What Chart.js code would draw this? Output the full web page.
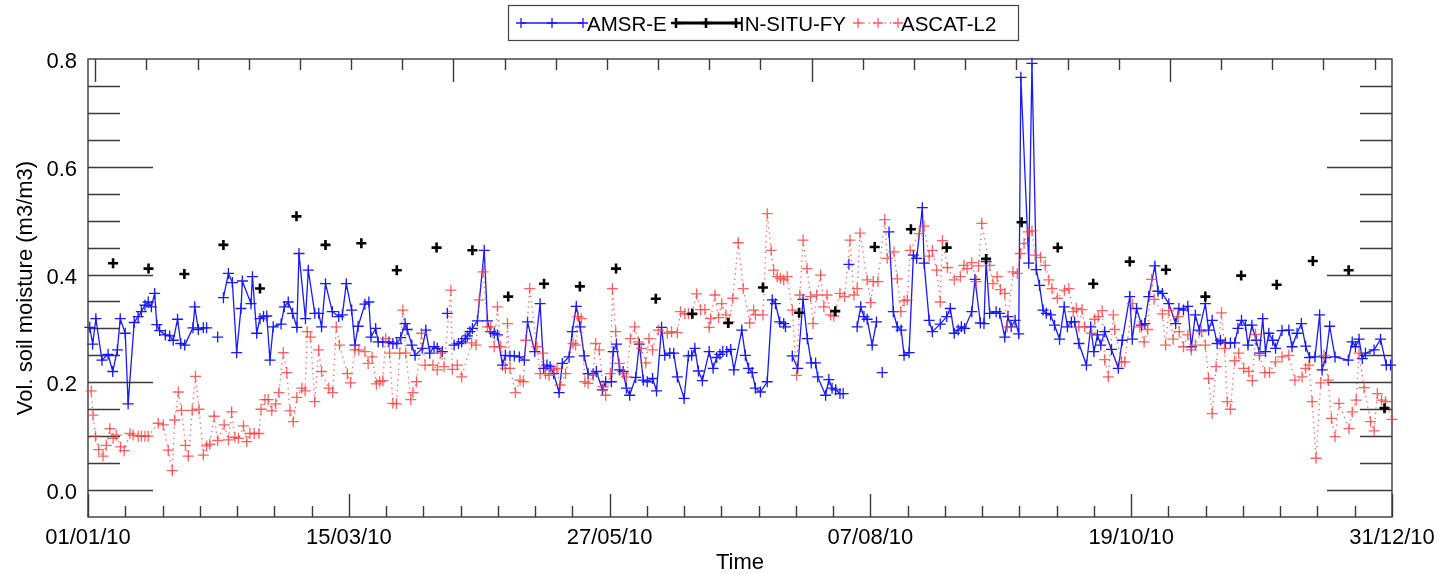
<!DOCTYPE html>
<html>
<head>
<meta charset="utf-8">
<title>Soil moisture 2010</title>
<script src="https://cdn.jsdelivr.net/npm/chart.js@4.4.1/dist/chart.umd.min.js"></script>
<style>
  html, body { margin: 0; padding: 0; background: #fff; }
  #wrap { width: 1439px; height: 574px; position: relative; }
</style>
</head>
<body>
<div id="wrap"><canvas id="soilChart"></canvas></div>
<script>
// x axis: day of 2010 (0 = 01/01/10)
const xTickLabels = ["01/01/10", "15/03/10", "27/05/10", "07/08/10", "19/10/10", "31/12/10"];
const yTickValues = [0.0, 0.2, 0.4, 0.6, 0.8];

// AMSR-E (null = gap in the line)
const amsrDays = [0.5,1.3,2.2,3.9,5.6,6.9,8.2,9.0,10.4,11.2,12.9,14.0,14.9,15.9,16.8,17.7,18.6,19.2,20.0,21.6,22.8,23.8,25.0,25.9,27.0,29.3,29.8,30.8,32.2,33.1,34.5,36.2,37.0,37.8,39.2,40.3,41.5,42.7,43.1,45.5,45.9,47.1,48.0,49.0,49.9,50.8,51.7,53.9,54.8,55.9,57.1,58.3,58.9,60.7,61.5,63.3,64.4,65.2,66.3,68.2,70.0,71.0,72.1,73.6,74.5,75.4,77.3,78.4,79.0,80.3,81.0,82.3,84.0,85.1,86.2,87.3,88.5,89.1,90.4,91.3,93.3,94.3,95.4,96.6,97.5,98.9,99.6,100.3,101.2,102.2,103.4,104.3,105.3,105.9,106.6,107.3,108.7,110.6,111.5,112.4,113.4,114.3,115.7,116.5,117.8,119.0,120.4,121.8,122.7,124.7,126.2,127.2,128.1,129.0,130.0,131.5,132.4,134.3,135.2,136.3,137.4,138.5,139.6,141.0,141.9,143.6,144.5,146.1,146.6,147.5,148.4,149.4,150.3,151.2,152.9,153.9,155.0,156.1,157.6,158.7,160.1,161.0,162.4,163.5,164.5,166.4,167.6,168.5,169.4,170.4,171.5,173.4,174.5,175.5,176.4,177.2,178.3,179.4,180.3,182.5,183.5,184.4,185.4,186.3,187.7,189.6,191.0,191.9,193.1,194.2,194.7,195.6,196.6,198.1,199.6,200.8,201.9,203.1,203.7,205.9,206.8,207.7,208.7,209.9,210.8,211.6,212.4,213.5,214.7,215.7,216.6,217.5,218.9,220.1,220.9,221.7,222.6,223.6,224.8,225.9,227.0,227.8,229.2,230.4,231.3,232.9,233.4,234.8,235.7,237.9,239.7,240.7,241.8,242.9,243.8,244.7,246.7,247.6,249.1,250.1,250.7,251.7,253.5,254.5,255.9,256.8,257.7,258.8,259.8,260.4,262.6,263.5,264.7,265.6,266.6,267.5,268.7,269.8,271.2,272.5,273.4,274.5,275.4,276.6,278.7,279.9,280.8,281.8,282.7,283.8,285.7,287.6,288.7,290.8,291.5,292.7,294.1,295.0,296.1,297.8,298.7,299.9,301.7,303.6,304.5,305.8,307.0,308.0,309.1,310.2,311.9,312.8,313.8,315.2,316.1,317.5,318.9,320.1,321.0,322.0,323.1,323.8,324.9,326.1,327.0,327.9,328.7,329.6,330.7,331.5,333.3,335.2,336.1,337.5,338.7,339.9,341.0,342.5,343.8,344.5,345.5,346.6,348.1,351.8,352.9,353.8,354.8,355.7,356.6,359.0,360.8,362.4,363.6];
const amsrVals = [0.302,0.271,0.318,0.241,0.252,0.220,0.260,0.318,0.291,0.160,0.311,0.322,0.331,0.343,0.349,0.340,0.365,0.307,0.296,0.288,0.286,0.278,0.317,0.272,0.269,0.301,0.340,0.298,0.301,0.301,null,0.284,null,0.357,0.402,0.385,0.255,0.337,0.388,0.346,0.396,0.291,0.318,0.322,0.323,0.241,0.303,0.308,0.340,0.349,0.328,0.302,0.439,0.318,0.408,0.328,0.328,0.303,0.383,0.331,0.322,0.325,0.383,0.334,0.269,0.304,0.345,0.349,0.284,0.300,0.275,0.275,0.275,0.272,0.272,0.283,0.309,0.298,0.269,0.250,0.263,0.297,0.254,0.266,0.263,0.257,null,0.328,null,0.269,0.272,0.275,0.281,0.286,0.294,0.300,0.314,0.445,0.314,0.294,0.291,0.288,0.232,0.250,0.249,0.249,0.247,0.241,0.312,0.257,0.346,0.226,0.232,0.229,0.216,0.181,0.235,0.247,0.294,0.341,0.303,0.249,0.216,0.216,0.220,0.186,0.201,0.201,0.257,0.271,0.223,0.220,0.189,0.176,0.209,0.271,0.204,0.201,0.207,0.184,0.302,0.250,0.254,0.254,0.210,0.170,0.249,0.250,0.263,0.221,0.203,0.257,0.226,0.246,0.252,0.257,0.257,0.261,0.223,0.297,0.250,0.226,0.218,0.189,0.182,0.201,0.353,0.346,0.312,0.309,0.303,null,0.249,0.226,0.354,0.281,0.236,0.236,0.210,0.176,0.205,0.189,0.186,0.179,0.179,null,0.419,null,0.303,0.340,0.322,0.317,0.269,0.312,null,0.218,null,0.479,0.331,0.303,0.297,0.250,0.255,0.436,0.430,0.524,0.421,0.315,0.294,0.308,0.322,0.337,0.291,0.297,0.303,0.300,0.331,0.391,0.310,0.309,0.424,0.328,0.331,0.328,0.284,0.322,0.303,0.315,0.290,0.766,0.421,0.792,0.409,0.380,0.334,0.328,0.325,0.306,0.280,0.340,0.303,0.312,0.312,0.272,0.232,0.303,0.257,0.288,0.269,0.294,0.261,0.226,0.278,0.359,0.280,0.337,0.306,0.309,0.359,0.416,0.369,0.365,0.346,0.309,0.337,0.334,0.341,0.266,0.325,0.297,0.346,0.297,0.315,0.272,0.278,0.273,0.273,0.273,0.300,0.315,0.306,0.269,0.306,0.278,0.254,0.318,0.257,0.291,0.278,0.263,0.296,0.297,0.266,0.291,0.309,0.267,0.246,0.247,0.325,0.223,0.246,0.304,0.247,0.241,0.275,0.266,0.280,0.244,0.254,0.260,0.280,0.232,0.232];

// IN-SITU-FY
const insituDays = [7.0,16.9,26.9,37.8,48.0,58.2,66.3,76.3,86.2,97.3,107.3,117.3,127.3,137.3,147.4,158.5,168.7,178.7,188.4,198.5,208.6,219.6,229.7,239.7,250.7,260.6,270.7,280.6,290.8,300.9,311.9,321.9,331.8,341.9,351.9,361.9];
const insituVals = [0.421,0.411,0.401,0.455,0.374,0.508,0.455,0.458,0.408,0.450,0.445,0.359,0.383,0.378,0.411,0.355,0.327,0.310,0.376,0.329,0.332,0.451,0.484,0.450,0.429,0.497,0.450,0.383,0.424,0.409,0.359,0.398,0.381,0.425,0.408,0.152];

// ASCAT-L2
const ascatDays = [0.9,1.4,2.1,3.0,4.2,5.1,6.1,7.0,7.9,9.1,10.1,11.7,12.6,14.0,14.9,15.9,16.8,19.6,21.0,22.4,23.5,24.2,25.2,26.1,27.2,28.0,29.1,30.0,31.0,32.2,33.1,34.0,35.2,36.2,38.0,39.2,40.1,41.0,42.0,43.4,44.3,45.2,46.4,47.7,48.3,49.4,50.3,51.3,52.4,53.3,54.5,55.5,56.4,57.3,58.3,59.7,60.6,61.2,62.1,63.3,64.4,65.2,67.2,68.3,69.3,70.2,72.4,73.3,74.5,75.6,77.3,78.2,79.3,80.5,81.4,82.3,83.1,84.2,85.1,86.1,87.0,87.9,88.7,90.1,90.7,91.7,93.1,94.1,96.3,97.5,98.5,99.4,101.3,101.7,103.1,104.3,107.1,108.3,109.2,110.3,111.5,112.4,113.4,114.3,115.2,116.5,117.1,117.8,119.3,120.6,121.5,122.2,123.3,125.3,126.2,127.0,127.7,128.7,130.0,130.9,131.8,133.3,135.4,136.1,136.8,137.7,138.7,139.6,141.0,141.7,142.7,143.8,144.5,145.8,146.4,147.3,148.3,149.4,150.3,151.4,152.6,153.6,154.5,155.7,156.6,157.6,159.2,161.7,162.9,164.5,165.4,166.6,167.6,168.5,169.9,171.0,172.2,173.4,173.8,175.0,176.0,176.9,178.1,179.0,180.0,181.5,182.9,184.7,185.8,186.3,188.4,189.6,190.7,191.4,192.4,193.3,194.2,195.2,196.6,197.8,198.7,199.6,200.7,201.7,202.4,203.4,204.5,205.4,206.3,207.3,208.2,209.9,211.2,212.7,213.8,214.7,215.5,217.5,218.5,219.2,220.5,222.4,223.1,225.0,225.9,226.9,227.8,228.7,229.5,232.0,233.4,234.8,235.7,236.9,237.9,238.5,239.9,241.8,243.5,244.5,245.4,246.7,247.9,248.6,249.5,251.7,252.6,253.8,254.7,255.9,256.6,258.2,259.4,260.3,261.3,262.4,263.5,264.4,265.9,267.2,268.2,269.1,270.6,272.6,273.8,275.0,275.9,276.6,277.5,278.2,280.1,281.0,282.0,283.1,283.8,284.8,286.2,286.6,288.5,289.4,291.5,293.6,294.8,295.8,296.9,297.6,299.9,300.8,301.7,302.9,304.3,304.6,305.8,307.0,308.0,309.1,310.8,311.9,312.8,313.8,314.9,316.4,317.3,318.0,318.9,320.1,321.2,322.6,324.0,325.0,325.9,327.0,328.5,329.8,331.5,333.3,335.2,336.9,338.9,339.9,340.8,341.7,342.8,344.1,345.0,346.2,347.1,348.1,349.2,352.0,352.9,354.0,354.8,356.2,358.0,359.0,359.9,361.1,362.2,364.0];
const ascatVals = [0.184,0.139,0.100,0.075,0.063,0.083,0.114,0.096,0.102,0.080,0.073,0.105,0.102,0.100,0.100,0.100,0.100,0.124,0.121,0.074,0.036,0.130,0.182,0.148,0.083,0.063,0.148,0.211,0.150,0.065,0.082,0.085,0.137,0.092,0.121,0.093,0.145,0.098,0.096,0.119,0.090,0.105,0.105,0.105,0.150,0.168,0.168,0.147,0.160,0.181,0.255,0.218,0.147,0.127,0.172,0.189,0.184,0.294,0.284,0.164,0.260,0.220,0.189,0.181,0.303,0.269,0.216,0.199,0.260,0.260,0.257,0.235,0.247,0.197,0.201,0.203,0.281,0.254,0.161,0.160,0.254,0.334,0.254,0.168,0.181,0.201,0.291,0.232,0.232,0.223,0.254,0.229,0.371,0.224,0.232,0.210,0.273,0.269,0.353,0.405,0.303,0.303,0.266,0.340,0.266,0.226,0.309,0.226,0.181,0.204,0.201,0.278,0.374,0.266,0.216,0.254,0.216,0.213,0.223,0.226,0.195,0.216,0.272,0.269,0.322,0.318,0.201,0.198,0.213,0.272,0.260,0.192,0.176,0.216,0.374,0.294,0.235,0.216,0.210,0.281,0.303,0.275,0.263,0.236,0.281,0.260,0.297,0.291,0.294,0.292,0.331,0.327,0.327,0.327,0.364,0.335,0.335,0.302,0.318,0.362,0.320,0.346,0.325,0.312,0.356,0.459,0.374,0.310,0.334,0.325,0.325,0.513,0.445,0.408,0.396,0.393,0.390,0.396,0.334,0.213,0.362,0.464,0.411,0.359,0.309,0.362,0.399,0.340,0.362,0.325,0.323,0.365,0.359,0.464,0.362,0.374,0.477,0.390,0.348,0.387,0.387,0.502,0.430,0.442,0.392,0.331,0.351,0.353,0.445,0.476,0.490,0.434,0.445,0.408,0.349,0.463,0.413,0.390,0.396,0.417,0.411,0.422,0.387,0.416,0.495,0.417,0.383,0.396,0.372,0.365,0.303,0.405,0.402,0.439,0.458,0.479,0.481,0.436,0.432,0.417,0.390,0.374,0.356,0.371,0.374,0.331,0.337,0.303,0.335,0.303,0.291,0.317,0.322,0.333,0.242,0.210,0.325,0.298,0.238,0.238,0.346,0.303,0.275,0.298,0.391,0.354,0.327,0.269,0.333,0.280,0.322,0.294,0.266,0.288,0.260,0.269,0.294,0.269,0.207,0.142,0.229,0.329,0.263,0.164,0.150,0.240,0.254,0.226,0.220,0.203,0.289,0.250,0.218,0.218,0.238,0.247,0.250,0.204,0.210,0.226,0.232,0.164,0.059,0.199,0.250,0.204,0.133,0.099,0.161,0.114,0.145,0.167,0.254,0.190,0.127,0.110,0.179,0.167,0.164,0.131];

const xMajorStep = 364 / 5;
const topTickStart = 2;
const topTickStep = 100 / 7;

const toPoints = (days, vals) => days.map((d, i) => ({ x: d, y: vals[i] }));

Chart.defaults.font.family = '"Liberation Sans", Arial, Helvetica, sans-serif';
Chart.defaults.font.size = 22;
Chart.defaults.color = "#000";

// frame and inward ticks, drawn from the chart's own scales
const frameTicks = {
    id: "frameTicks",
    beforeDatasetsDraw(chart) {
        const { ctx, chartArea: a, scales } = chart;
        const x = scales.x, y = scales.y;
        ctx.save();
        ctx.strokeStyle = "#3a3a3a";
        ctx.lineWidth = 1.4;
        ctx.strokeRect(a.left, a.top, a.right - a.left, a.bottom - a.top);
        ctx.beginPath();
        // bottom: 7 minor steps per major
        for (let k = 0; k <= 35; k++) {
            const px = Math.round(x.getPixelForValue(k * xMajorStep / 7)) + 0.5;
            const len = k % 7 === 0 ? 23 : 11;
            ctx.moveTo(px, a.bottom);
            ctx.lineTo(px, a.bottom - len);
        }
        // top axis
        for (let k = 0; topTickStart + k * topTickStep <= 364; k++) {
            const px = Math.round(x.getPixelForValue(topTickStart + k * topTickStep)) + 0.5;
            const len = k % 7 === 0 ? 23 : 11;
            ctx.moveTo(px, a.top);
            ctx.lineTo(px, a.top + len);
        }
        // left and right
        for (let k = 0; k < 16; k++) {
            const py = Math.round(y.getPixelForValue(k * 0.05)) + 0.5;
            const len = k % 4 === 0 ? 65 : 32;
            ctx.moveTo(a.left, py);
            ctx.lineTo(a.left + len, py);
            ctx.moveTo(a.right, py);
            ctx.lineTo(a.right - len, py);
        }
        ctx.stroke();
        ctx.restore();
    }
};

// boxed legend as in the original plot
const boxLegend = {
    id: "boxLegend",
    afterDraw(chart) {
        const ctx = chart.ctx;
        const ds = chart.data.datasets;
        const items = [
            { x0: 521, x1: 583, tx: 587 },
            { x0: 676, x1: 736, tx: 739 },
            { x0: 858, x1: 898, tx: 901 }
        ];
        const ly = 23;
        ctx.save();
        ctx.strokeStyle = "#444";
        ctx.lineWidth = 1.2;
        ctx.strokeRect(508.5, 5.5, 510, 35);
        items.forEach((it, i) => {
            const d = ds[i];
            ctx.strokeStyle = d.borderColor;
            ctx.lineWidth = d.borderWidth;
            ctx.setLineDash(d.borderDash || []);
            ctx.beginPath();
            ctx.moveTo(it.x0, ly);
            ctx.lineTo(it.x1, ly);
            ctx.stroke();
            ctx.setLineDash([]);
            ctx.lineWidth = d.pointBorderWidth;
            ctx.beginPath();
            [it.x0, (it.x0 + it.x1) / 2, it.x1].forEach(cx => {
                ctx.moveTo(cx - 5, ly); ctx.lineTo(cx + 5, ly);
                ctx.moveTo(cx, ly - 5); ctx.lineTo(cx, ly + 5);
            });
            ctx.stroke();
            ctx.fillStyle = "#000";
            ctx.font = '20.5px "Liberation Sans", Arial, sans-serif';
            ctx.textBaseline = "middle";
            ctx.fillText(d.label, it.tx, ly + 2);
        });
        ctx.restore();
    }
};

new Chart(document.getElementById("soilChart"), {
    type: "line",
    data: {
        datasets: [
            {
                label: "AMSR-E",
                data: toPoints(amsrDays, amsrVals),
                borderColor: "rgb(25,25,255)",
                borderWidth: 1.3,
                pointStyle: "cross",
                pointRadius: 5.5,
                pointBorderColor: "rgb(25,25,255)",
                pointBorderWidth: 1.3,
                spanGaps: false,
                clip: 8,
                order: 2
            },
            {
                label: "IN-SITU-FY",
                data: toPoints(insituDays, insituVals),
                showLine: false,
                borderColor: "#000",
                borderWidth: 3,
                pointStyle: "cross",
                pointRadius: 5,
                pointBorderColor: "#000",
                pointBorderWidth: 2.6,
                clip: 8,
                order: 0
            },
            {
                label: "ASCAT-L2",
                data: toPoints(ascatDays, ascatVals),
                borderColor: "rgba(255,60,60,0.8)",
                borderWidth: 1.3,
                borderDash: [1.3, 4],
                pointStyle: "cross",
                pointRadius: 5.5,
                pointBorderColor: "rgba(255,60,60,0.8)",
                pointBorderWidth: 1.3,
                clip: 8,
                order: 1
            }
        ]
    },
    options: {
        responsive: true,
        maintainAspectRatio: false,
        animation: false,
        layout: { padding: { top: 59, right: 47, bottom: 0, left: 0 } },
        elements: { line: { tension: 0 } },
        plugins: {
            legend: { display: false },
            tooltip: { enabled: false }
        },
        scales: {
            x: {
                type: "linear",
                min: 0,
                max: 364,
                grid: { display: false, drawTicks: false },
                border: { display: false },
                afterBuildTicks: (scale) => {
                    scale.ticks = xTickLabels.map((_, i) => ({ value: i * xMajorStep }));
                },
                afterFit: (scale) => {
                    scale.height = 57;
                    scale.paddingLeft = 0;
                    scale.paddingRight = 0;
                },
                ticks: {
                    autoSkip: false,
                    maxRotation: 0,
                    padding: 8,
                    callback: (v, i) => xTickLabels[i]
                },
                title: { display: true, text: "Time", font: { size: 22 }, padding: { top: 0, bottom: -2 } }
            },
            y: {
                type: "linear",
                min: -0.05,
                max: 0.8,
                grid: { display: false, drawTicks: false },
                border: { display: false },
                afterBuildTicks: (scale) => {
                    scale.ticks = yTickValues.map(v => ({ value: v }));
                },
                afterFit: (scale) => { scale.width = 88; },
                ticks: {
                    padding: 11,
                    labelOffset: 3,
                    callback: (v) => v.toFixed(1)
                },
                title: { display: true, text: "Vol. soil moisture (m3/m3)", font: { size: 22 }, padding: { top: 13, bottom: 0 } }
            }
        }
    },
    plugins: [frameTicks, boxLegend]
});
</script>
</body>
</html>
